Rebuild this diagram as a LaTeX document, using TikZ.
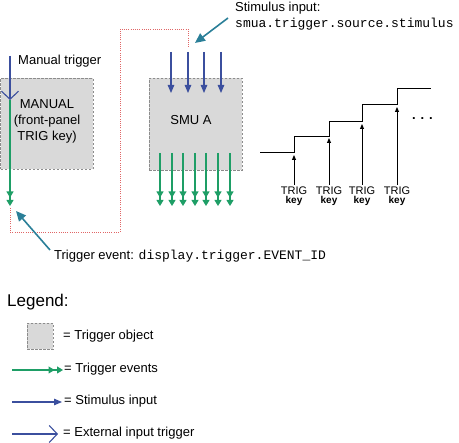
\documentclass[tikz,border=0pt]{standalone}
\usepackage{fontspec}
\setmainfont{Liberation Sans}
\setmonofont{Liberation Mono}
\usetikzlibrary{arrows.meta}
\definecolor{stimblue}{HTML}{3B4F9E}
\definecolor{evgreen}{HTML}{1E9E66}
\definecolor{callout}{HTML}{2A7F98}
\definecolor{dotred}{HTML}{E06666}
\definecolor{boxgray}{HTML}{D9D9D9}
\definecolor{boxedge}{HTML}{8C8C8C}
\tikzset{
 trigobj/.style={draw=boxedge, fill=boxgray, line width=0.8pt, dash pattern=on 2.5pt off 1.5pt, inner sep=0pt},
 stimarrow/.style={draw=stimblue, line width=1.1pt, -{Triangle[length=8pt,width=6.5pt]}},
 evarrow/.style={draw=evgreen, line width=1.1pt, -{Triangle[length=6pt,width=7pt,sep=2.5pt]Triangle[length=6pt,width=7pt]}},
 extarrow/.style={draw=stimblue, line width=1.1pt, -{Straight Barb[length=8pt,width=17pt]}},
 calloutarrow/.style={draw=callout, line width=1.6pt, -{Triangle[length=10pt,width=9pt]}},
 dotpath/.style={draw=dotred, line width=0.9pt, dash pattern=on 0.9pt off 1.3pt},
 keyarrow/.style={draw=black, line width=0.9pt, -{Triangle[length=5pt,width=4pt]}},
 stair/.style={draw=black, line width=0.9pt},
 lbl/.style={font=\fontsize{13}{16}\selectfont, inner sep=0pt},
 keylbl/.style={font=\fontsize{11}{10}\selectfont, inner sep=0pt},
 keybold/.style={font=\fontsize{10}{10}\selectfont\bfseries, inner sep=0pt},
}
\begin{document}
\begin{tikzpicture}[x=1pt,y=-1pt]
\useasboundingbox (0,0) rectangle (459,443);
% trigger objects
\node[trigobj, minimum width=92pt, minimum height=91pt, anchor=north west] (manual) at (0.5,78) {};
\node[lbl, align=center] (manualtxt) at (47,121) {MANUAL\\(front-panel\\TRIG key)};
\node[trigobj, minimum width=93pt, minimum height=92pt, anchor=north west] (smu) at (149,78) {};
\node[lbl] (smutxt) at (191,120) {SMU A};
% red dotted link
\coordinate (r0) at (10,208);
\coordinate (r1) at (10,232);
\coordinate (r2) at (120,232);
\coordinate (r3) at (120,29);
\coordinate (r4) at (188,29);
\coordinate (r5) at (188,47);
\draw[dotpath] (r0) -- (r1) -- (r2) -- (r3) -- (r4) -- (r5);
% manual trigger
\coordinate (mt) at (10,56);
\coordinate (mv) at (10,100);
\coordinate (me) at (10,206);
\draw[extarrow] (mt) -- (mv);
\draw[evarrow] (mv) -- (me);
\node[lbl, anchor=west] (mtlbl) at (18,61) {Manual trigger};
% stimulus inputs
\foreach \x [count=\i] in {171,188,204,221} {
  \coordinate (s\i a) at (\x,52);
  \coordinate (s\i b) at (\x,93);
  \draw[stimarrow] (s\i a) -- (s\i b);
}
% SMU trigger events
\foreach \x [count=\i] in {160,172,183,195,206,218,230} {
  \coordinate (e\i a) at (\x,153);
  \coordinate (e\i b) at (\x,206);
  \draw[evarrow] (e\i a) -- (e\i b);
}
% callouts
\node[lbl, anchor=west] (stimlbl) at (235,8) {Stimulus input:};
\node[lbl, anchor=west] (stimcode) at (235,24) {\texttt{smua.trigger.source.stimulus}};
\coordinate (c1a) at (228,18);
\coordinate (c1b) at (195,43);
\draw[calloutarrow] (c1a) -- (c1b);
\node[lbl, anchor=west] (evlbl) at (54,256) {Trigger event: \texttt{display.trigger.EVENT\_ID}};
\coordinate (c2a) at (50,250);
\coordinate (c2b) at (16,211);
\draw[calloutarrow] (c2a) -- (c2b);
% staircase
\draw[stair] (260,152) -- (294,152) -- (294,136) -- (329,136) -- (329,121) -- (362,121) -- (362,104) -- (397,104) -- (397,88) -- (431,88);
\foreach \x/\t [count=\i] in {294/155,329/138,362/124,397/107} {
  \coordinate (k\i a) at (\x,185);
  \coordinate (k\i b) at (\x,\t);
  \draw[keyarrow] (k\i a) -- (k\i b);
  \node[keylbl, anchor=base] (kt\i) at (\x,195) {TRIG};
  \node[keybold, anchor=base] (kk\i) at (\x,204) {key};
}
\node[lbl, anchor=west] (dots) at (412,119) {\textbf{. . .}};
% legend
\node[inner sep=0pt, anchor=west, font=\fontsize{17}{20}\selectfont] (legend) at (7,302) {Legend:};
\node[trigobj, minimum width=26pt, minimum height=26pt, anchor=north west] (legbox) at (27,323) {};
\node[lbl, anchor=west] (legboxlbl) at (63,336) {= Trigger object};
\coordinate (lg1a) at (12,370);
\coordinate (lg1b) at (63,370);
\draw[evarrow] (lg1a) -- (lg1b);
\node[lbl, anchor=west] (lg1lbl) at (64,369) {= Trigger events};
\coordinate (lg2a) at (12,402);
\coordinate (lg2b) at (62,402);
\draw[stimarrow] (lg2a) -- (lg2b);
\node[lbl, anchor=west] (lg2lbl) at (64,401) {= Stimulus input};
\coordinate (lg3a) at (12,434);
\coordinate (lg3b) at (58,434);
\draw[extarrow] (lg3a) -- (lg3b);
\node[lbl, anchor=west] (lg3lbl) at (63,433) {= External input trigger};
\end{tikzpicture}
\end{document}
